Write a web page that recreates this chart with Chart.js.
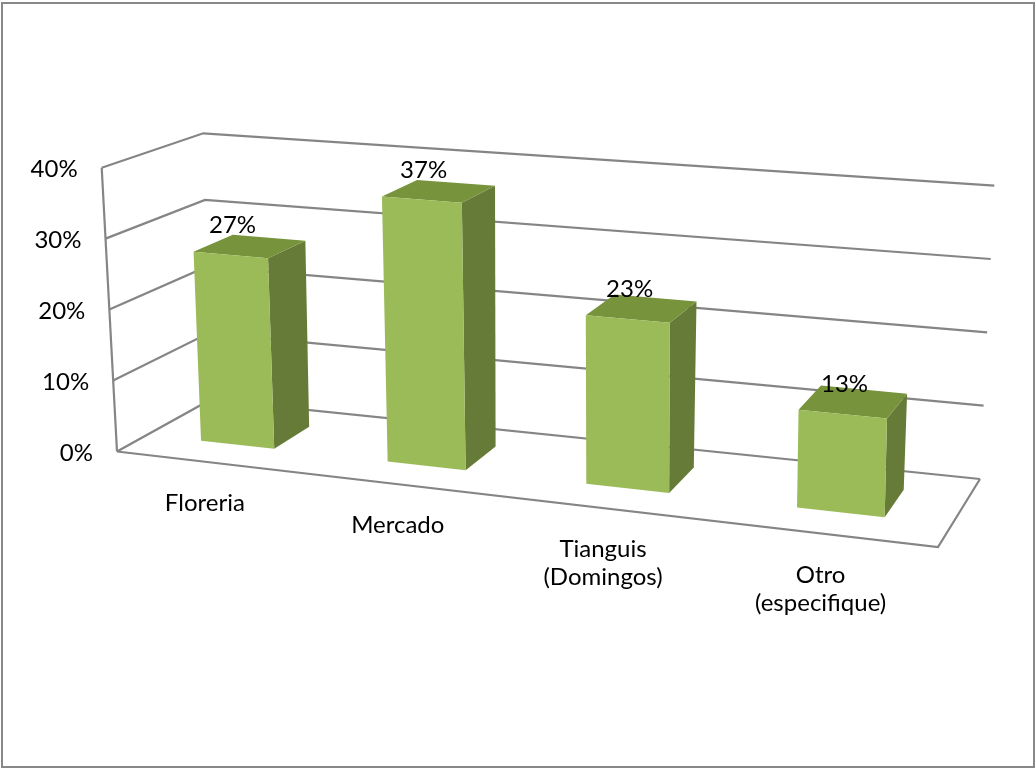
<!DOCTYPE html>
<html>
  <head>
    <meta charset="UTF-8">
    <title>Lugar de compra</title>
    <script src="https://cdn.jsdelivr.net/npm/chart.js@4.4.0/dist/chart.umd.min.js"></script>
    <style>
      body { margin: 0; background: #fff; }
      #wrap { position: relative; width: 1035px; height: 768px; }
      #frame {
        position: absolute; left: 1px; top: 2px; width: 1034px; height: 766px;
        box-sizing: border-box; border: 2px solid #888; pointer-events: none;
      }
      canvas { position: absolute; left: 0; top: 0; }
    </style>
  </head>
  <body>
    <div id="wrap">
      <canvas id="chart" width="1035" height="768"></canvas>
      <div id="frame"></div>
    </div>

    <script>
      const categories = [['Floreria'], ['Mercado'], ['Tianguis', '(Domingos)'], ['Otro', '(especifique)']];
      const values = [27, 37, 23, 13];
      const tickValues = [0, 10, 20, 30, 40];
      const tickLabels = ['0%', '10%', '20%', '30%', '40%'];

      // corners of the 3d box on screen: front plane (w=0) and back wall (w=1)
      const F00 = [117, 451.5], F10 = [938, 547], F01 = [101.7, 167.7], F11 = [944, 235];
      const B00 = [210, 400], B10 = [980, 479], B01 = [203.3, 133.3], B11 = [994.3, 185.7];
      const WARP = 0.12;          // rough perspective squeeze along the category axis
      const BAR_FRONT = 0.327, BAR_BACK = 0.738;

      const FONT = '24px Lato';
      const GRID = '#858585';

      function lerp(a, b, t) {
        return [a[0] + (b[0] - a[0]) * t, a[1] + (b[1] - a[1]) * t];
      }

      function proj(u, v, w) {
        u = u - WARP * u * (1 - u);
        const f = lerp(lerp(F00, F10, u), lerp(F01, F11, u), v);
        const b = lerp(lerp(B00, B10, u), lerp(B01, B11, u), v);
        return lerp(f, b, w);
      }

      function poly(ctx, pts, fill) {
        ctx.beginPath();
        ctx.moveTo(pts[0][0], pts[0][1]);
        for (let i = 1; i < pts.length; i++) ctx.lineTo(pts[i][0], pts[i][1]);
        ctx.closePath();
        ctx.fillStyle = fill;
        ctx.fill();
      }

      function line(ctx, pts) {
        ctx.beginPath();
        ctx.moveTo(pts[0][0], pts[0][1]);
        for (let i = 1; i < pts.length; i++) ctx.lineTo(pts[i][0], pts[i][1]);
        ctx.stroke();
      }

      const box3d = {
        id: 'box3d',
        afterDraw(chart) {
          const ctx = chart.ctx;
          const area = chart.chartArea;
          const xs = chart.scales.x, ys = chart.scales.y;
          const U = px => (px - area.left) / area.width;
          const V = py => (ys.bottom - py) / (ys.bottom - ys.top);

          ctx.save();
          ctx.lineWidth = 2.2;
          ctx.strokeStyle = GRID;
          ctx.lineJoin = 'miter';

          // gridlines on side wall and back wall
          tickValues.forEach(t => {
            const v = V(ys.getPixelForValue(t));
            line(ctx, [proj(0, v, 0), proj(0, v, 1), proj(1, v, 1)]);
          });
          // floor edges and value axis
          line(ctx, [proj(0, 0, 0), proj(1, 0, 0), proj(1, 0, 1)]);
          line(ctx, [proj(0, 0, 0), proj(0, 1, 0)]);

          // tick labels
          ctx.font = FONT;
          ctx.fillStyle = '#000';
          ctx.textAlign = 'right';
          ctx.textBaseline = 'middle';
          tickValues.forEach((t, i) => {
            const p = proj(0, V(ys.getPixelForValue(t)), 0);
            ctx.fillText(tickLabels[i], p[0] - 24, p[1] + 2);
          });

          // columns
          const meta = chart.getDatasetMeta(0);
          meta.data.forEach(bar => {
            const { x, y, width } = bar.getProps(['x', 'y', 'width'], true);
            const u0 = U(x - width / 2), u1 = U(x + width / 2), v = V(y);
            const wf = BAR_FRONT, wb = BAR_BACK;
            poly(ctx, [proj(u1, 0, wf), proj(u1, 0, wb), proj(u1, v, wb), proj(u1, v, wf)], '#657b37');
            poly(ctx, [proj(u0, v, wf), proj(u1, v, wf), proj(u1, v, wb), proj(u0, v, wb)], '#77933c');
            poly(ctx, [proj(u0, 0, wf), proj(u1, 0, wf), proj(u1, v, wf), proj(u0, v, wf)], '#9bbb59');
          });

          // value labels above the columns
          ctx.fillStyle = '#000';
          ctx.textAlign = 'center';
          ctx.textBaseline = 'alphabetic';
          meta.data.forEach((bar, i) => {
            const { x, y } = bar.getProps(['x', 'y'], true);
            const p = proj(U(x), V(y), BAR_FRONT);
            ctx.fillText(values[i] + '%', p[0] + 2, p[1] - 22);
          });

          // category labels below the floor
          ctx.textBaseline = 'top';
          categories.forEach((lines, i) => {
            const p = proj(U(xs.getPixelForValue(i)), 0, 0);
            lines.forEach((s, k) => ctx.fillText(s, p[0] - 4, p[1] + 29 + k * 28));
          });
          ctx.restore();
        }
      };

      new Chart(document.getElementById('chart'), {
        type: 'bar',
        data: {
          labels: categories,
          datasets: [{
            data: values,
            backgroundColor: 'rgba(0,0,0,0)',
            borderWidth: 0,
            categoryPercentage: 1,
            barPercentage: 0.4
          }]
        },
        options: {
          responsive: false,
          animation: false,
          layout: { padding: 0 },
          plugins: { legend: { display: false }, tooltip: { enabled: false } },
          scales: {
            x: { display: false, offset: true },
            y: { display: false, min: 0, max: 40, ticks: { stepSize: 10 } }
          }
        },
        plugins: [box3d]
      });
    </script>
  </body>
</html>
